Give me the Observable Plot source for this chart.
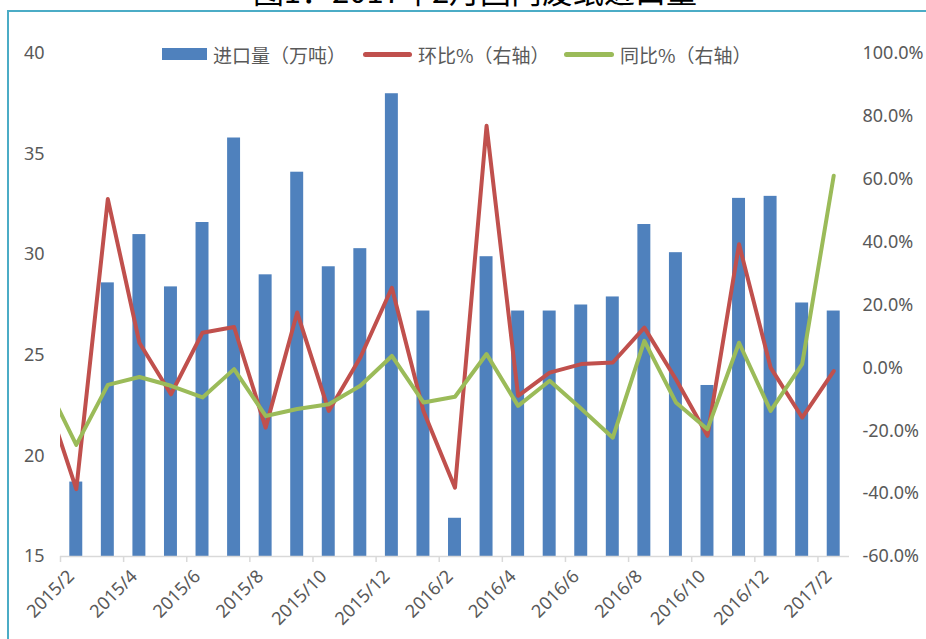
<!DOCTYPE html>
<html>
<head>
<meta charset="utf-8">
<script src="https://cdn.jsdelivr.net/npm/d3@7"></script>
<script src="https://cdn.jsdelivr.net/npm/@observablehq/plot@0.6"></script>
<style>
  html, body { margin: 0; padding: 0; background: #fff; }
  #wrap { position: relative; width: 926px; height: 639px; overflow: hidden; font-family: "Noto Sans", "Noto Sans CJK SC", sans-serif; }
  #title { position: absolute; top: -27px; left: 0; width: 926px; text-align: center; padding-left: 24px; box-sizing: border-box;
           font-family: "Noto Sans CJK SC", sans-serif; font-size: 31px; line-height: 34px; color: #000; white-space: nowrap; }
  #frame { position: absolute; left: 7px; top: 10px; width: 930px; height: 640px; border-left: 2px solid #4bacc6; border-top: 2px solid #4bacc6; }
  #chart { position: absolute; left: 0; top: 0; }
  .lg { position: absolute; top: 43px; height: 22px; display: flex; align-items: center; font-family: "Noto Sans CJK SC", sans-serif; font-size: 19px; color: #595959; white-space: nowrap; }
  .sw { display: inline-block; margin-right: 6px; }
</style>
</head>
<body>
<div id="wrap">
  <div id="title">图1：2017年2月国内废纸进口量</div>
  <div id="frame"></div>
  <div id="chart"></div>
  <div class="lg" style="left:162px"><span class="sw" style="width:45px;height:12px;background:#4f81bd"></span>进口量（万吨）</div>
  <div class="lg" style="left:363px"><span class="sw" style="width:49px;height:5px;border-radius:2.5px;background:#c0504d"></span>环比%（右轴）</div>
  <div class="lg" style="left:564px"><span class="sw" style="width:50px;height:5px;border-radius:2.5px;background:#9bbb59"></span>同比%（右轴）</div>
</div>
<script>
// Months shown on the axis
const months = ["2015/2","2015/3","2015/4","2015/5","2015/6","2015/7","2015/8","2015/9","2015/10","2015/11","2015/12",
  "2016/1","2016/2","2016/3","2016/4","2016/5","2016/6","2016/7","2016/8","2016/9","2016/10","2016/11","2016/12",
  "2017/1","2017/2"];
// Import volume (10k tonnes), left axis
const imports = [18.7,28.6,31.0,28.4,31.6,35.8,29.0,34.1,29.4,30.3,38.0,
  27.2,16.9,29.9,27.2,27.2,27.5,27.9,31.5,30.1,23.5,32.8,32.9,27.6,27.2];
// Month-on-month % (right axis); first value is 2015/1 (outside the axis, clipped)
const momPrev = -8.0;
const mom = [-38.6,53.7,8.0,-8.4,11.2,13.0,-19.0,17.6,-13.7,3.3,25.5,
  -13.7,-38.1,77.0,-8.9,-1.5,1.2,1.7,12.8,-3.6,-21.6,39.3,0.1,-15.8,-1.0];
// Year-on-year % (right axis)
const yoyPrev = -4.1;
const yoy = [-24.5,-5.4,-2.9,-5.7,-9.4,-0.4,-15.3,-13.1,-11.6,-5.7,3.8,
  -11.0,-9.2,4.4,-12.1,-4.1,-13.0,-22.2,8.6,-11.0,-19.5,8.0,-13.7,1.2,61.1];
const leftTicks = [15,20,25,30,35,40];
const rightTicks = [-60,-40,-20,0,20,40,60,80,100];

const L0 = 15, L1 = 40, R0 = -60, R1 = 100;
const toLeft = p => L0 + (p - R0) * (L1 - L0) / (R1 - R0);

const bars = months.map((m, i) => ({i, m, v: imports[i]}));
const momPts = [{i: -1, p: momPrev}, ...mom.map((p, i) => ({i, p}))];
const yoyPts = [{i: -1, p: yoyPrev}, ...yoy.map((p, i) => ({i, p}))];
const xTicks = d3.range(0, months.length, 2);

const grey = "#595959";
const chart = Plot.plot({
  width: 926,
  height: 639,
  marginLeft: 60,
  marginRight: 77,
  marginTop: 53,
  marginBottom: 83,
  style: {fontFamily: '"Noto Sans", "Noto Sans CJK SC", sans-serif', fontSize: "18px", color: grey, background: "transparent"},
  x: {type: "linear", domain: [0, months.length], axis: null},
  y: {domain: [L0, L1], axis: null},
  marks: [
    Plot.rectY(bars, {x1: d => d.i, x2: d => d.i + 1, y1: L0, y2: d => d.v, insetLeft: 9.3, insetRight: 9.3, fill: "#4f81bd"}),
    Plot.line(momPts, {x: d => d.i + 0.5, y: d => toLeft(d.p), stroke: "#c0504d", strokeWidth: 4, strokeLinejoin: "round", strokeLinecap: "round", clip: true}),
    Plot.line(yoyPts, {x: d => d.i + 0.5, y: d => toLeft(d.p), stroke: "#9bbb59", strokeWidth: 4, strokeLinejoin: "round", strokeLinecap: "round", clip: true}),
    Plot.ruleY([L0], {stroke: "#d9d9d9", strokeWidth: 1.5}),
    Plot.axisX({ticks: xTicks, tickFormat: () => "", tickSize: 6, stroke: "#d9d9d9", strokeWidth: 1.5}),
    Plot.text(bars.filter(d => d.i % 2 === 0), {x: d => d.i + 0.5, frameAnchor: "bottom", dy: 21, dx: -1, text: "m", rotate: -45, textAnchor: "end", fill: grey}),
    Plot.axisY({anchor: "left", ticks: leftTicks, tickSize: 0, tickPadding: 16, label: null, fill: grey}),
    Plot.text(rightTicks, {y: d => toLeft(d), frameAnchor: "right", textAnchor: "start", dx: 13, text: d => d.toFixed(1) + "%", fill: grey})
  ]
});
document.getElementById("chart").appendChild(chart);
</script>
</body>
</html>
